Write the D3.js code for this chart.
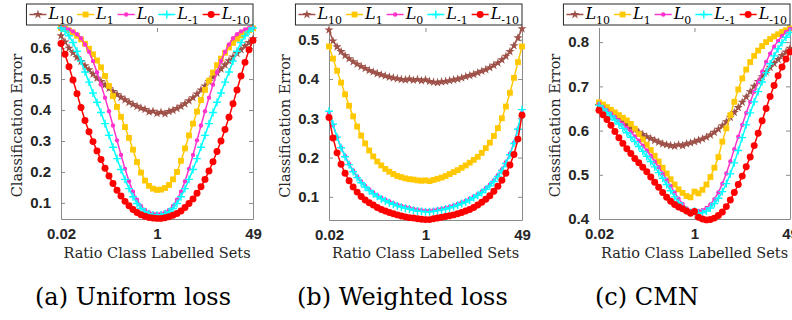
<!DOCTYPE html>
<html>
<head>
<meta charset='utf-8'>
<title>Classification error vs class ratio</title>
<script src='https://d3js.org/d3.v7.min.js'></script>
<style>
  body {margin:0; background:#fff;}
  .tk text {font-family:'Liberation Sans',Arial,sans-serif; font-weight:bold; font-size:15px; fill:#262626;}
  .axlbl {font-family:'DejaVu Serif',serif; font-size:14.5px; fill:#262626;}
  .cap {font-family:'DejaVu Serif',serif; font-size:24px; fill:#000;}
  .leg {font-family:'DejaVu Serif',serif; font-style:italic; font-size:16px; fill:#000;}
  .sub {font-style:normal; font-size:11px;}
</style>
</head>
<body>
<svg id='fig' width='792' height='320'></svg>
<script>
// sampled class ratios (log-spaced grid of the experiments)
const ratios=[0.02041,0.02400,0.02823,0.03320,0.03905,0.04592,0.05400,0.06351,0.07468,0.08784,
  0.1033,0.1215,0.1429,0.1680,0.1976,0.2324,0.2733,0.3214,0.3780,0.4446,0.5228,0.6149,0.7231,0.8503,
  1,1.176,1.383,1.626,1.913,2.249,2.645,3.111,3.659,4.304,5.061,5.952,7.000,8.232,9.681,11.385,
  13.39,15.75,18.52,21.78,25.61,30.12,35.42,41.66,49];
const xTicks=[1/49,1,49], xTickLabels=['0.02','1','49'];
const seriesNames=['10','1','0','-1','-10'];
const seriesColors=['#9e5148','#ffc800','#ff33cc','#00ffff','#ff0000'];
const captions=['(a) Uniform loss','(b) Weighted loss','(c) CMN'];
const xLabel='Ratio Class Labelled Sets', yLabel='Classification Error';

// (a) uniform loss
const uniTicks=[0.1,0.2,0.3,0.4,0.5,0.6];
const uniL10=[0.640,0.620,0.600,0.585,0.570,0.557,0.543,0.530,0.516,0.503,0.492,0.481,0.470,0.460,0.450,0.441,0.433,0.425,0.418,0.412,0.406,0.402,0.394,0.396,0.389,0.393,0.388,0.395,0.399,0.405,0.412,0.420,0.430,0.440,0.452,0.465,0.478,0.492,0.506,0.520,0.533,0.546,0.559,0.571,0.583,0.595,0.607,0.618,0.630];
const uniL1=[0.665,0.662,0.657,0.650,0.640,0.628,0.614,0.598,0.580,0.560,0.538,0.510,0.478,0.445,0.410,0.378,0.345,0.310,0.272,0.232,0.198,0.172,0.155,0.146,0.142,0.143,0.148,0.158,0.176,0.200,0.236,0.276,0.318,0.356,0.395,0.432,0.465,0.495,0.521,0.545,0.566,0.585,0.602,0.617,0.630,0.641,0.650,0.658,0.664];
const uniL0=[0.665,0.664,0.660,0.654,0.645,0.632,0.612,0.588,0.558,0.522,0.482,0.440,0.396,0.350,0.302,0.255,0.210,0.170,0.136,0.110,0.090,0.077,0.069,0.065,0.064,0.065,0.069,0.077,0.090,0.110,0.136,0.170,0.210,0.255,0.302,0.350,0.396,0.440,0.482,0.522,0.558,0.588,0.612,0.632,0.645,0.654,0.660,0.664,0.665];
const uniLm1=[0.665,0.655,0.640,0.618,0.590,0.558,0.523,0.490,0.455,0.425,0.392,0.356,0.318,0.280,0.243,0.208,0.176,0.146,0.120,0.098,0.082,0.071,0.065,0.061,0.060,0.061,0.065,0.071,0.082,0.098,0.120,0.146,0.176,0.208,0.243,0.280,0.318,0.356,0.392,0.425,0.455,0.490,0.523,0.558,0.590,0.618,0.640,0.655,0.665];
const uniLm10=[0.615,0.580,0.540,0.497,0.453,0.408,0.366,0.330,0.298,0.268,0.240,0.212,0.187,0.163,0.141,0.122,0.105,0.091,0.079,0.069,0.062,0.057,0.053,0.051,0.050,0.050,0.052,0.055,0.060,0.066,0.074,0.085,0.098,0.113,0.131,0.152,0.176,0.203,0.233,0.266,0.300,0.337,0.377,0.420,0.465,0.510,0.554,0.595,0.625];

// (b) weighted loss
const wgtTicks=[0.1,0.2,0.3,0.4,0.5];
const wgtL10=[0.525,0.497,0.482,0.470,0.460,0.452,0.444,0.438,0.432,0.427,0.422,0.418,0.414,0.411,0.408,0.405,0.403,0.401,0.399,0.398,0.400,0.397,0.399,0.396,0.398,0.394,0.392,0.391,0.393,0.394,0.396,0.398,0.400,0.403,0.406,0.409,0.412,0.416,0.420,0.424,0.429,0.435,0.441,0.449,0.458,0.470,0.485,0.505,0.528];
const wgtL1=[0.483,0.452,0.421,0.391,0.361,0.332,0.305,0.279,0.256,0.236,0.218,0.203,0.190,0.180,0.171,0.164,0.158,0.153,0.150,0.147,0.145,0.144,0.142,0.141,0.142,0.140,0.143,0.146,0.149,0.153,0.158,0.163,0.168,0.174,0.180,0.187,0.194,0.202,0.212,0.224,0.238,0.255,0.275,0.300,0.330,0.365,0.403,0.443,0.483];
const wgtL0=[0.312,0.283,0.252,0.226,0.204,0.184,0.167,0.152,0.139,0.128,0.119,0.111,0.104,0.098,0.093,0.088,0.084,0.080,0.077,0.074,0.072,0.069,0.067,0.066,0.065,0.065,0.066,0.068,0.070,0.072,0.075,0.078,0.082,0.086,0.090,0.095,0.101,0.107,0.114,0.122,0.131,0.142,0.155,0.170,0.188,0.210,0.238,0.272,0.315];
const wgtLm1=[0.318,0.285,0.252,0.225,0.202,0.182,0.164,0.149,0.136,0.125,0.116,0.108,0.101,0.095,0.090,0.085,0.081,0.077,0.074,0.071,0.069,0.066,0.064,0.063,0.062,0.062,0.063,0.065,0.067,0.069,0.072,0.075,0.079,0.083,0.087,0.092,0.098,0.104,0.111,0.119,0.128,0.139,0.152,0.167,0.185,0.207,0.236,0.272,0.322];
const wgtLm10=[0.302,0.250,0.212,0.183,0.160,0.141,0.125,0.112,0.101,0.092,0.085,0.079,0.073,0.068,0.064,0.060,0.057,0.054,0.051,0.049,0.047,0.046,0.044,0.043,0.042,0.042,0.044,0.046,0.048,0.050,0.052,0.054,0.057,0.060,0.064,0.068,0.073,0.079,0.086,0.094,0.103,0.114,0.127,0.142,0.160,0.181,0.208,0.247,0.308];

// (c) CMN
const cmnTicks=[0.4,0.5,0.6,0.7,0.8];
const cmnL10=[0.657,0.650,0.644,0.637,0.631,0.625,0.619,0.613,0.607,0.601,0.596,0.591,0.586,0.582,0.578,0.574,0.570,0.568,0.566,0.565,0.568,0.566,0.570,0.572,0.575,0.578,0.581,0.585,0.590,0.596,0.603,0.611,0.620,0.630,0.641,0.652,0.664,0.676,0.688,0.700,0.711,0.722,0.733,0.743,0.752,0.761,0.770,0.778,0.786];
const cmnL1=[0.664,0.659,0.653,0.647,0.641,0.635,0.629,0.623,0.615,0.604,0.592,0.580,0.568,0.556,0.543,0.530,0.516,0.503,0.490,0.478,0.467,0.459,0.452,0.449,0.462,0.458,0.466,0.478,0.495,0.516,0.540,0.575,0.605,0.635,0.665,0.693,0.718,0.738,0.755,0.769,0.781,0.791,0.800,0.807,0.813,0.818,0.823,0.827,0.831];
const cmnL0=[0.660,0.653,0.646,0.639,0.631,0.623,0.615,0.606,0.597,0.587,0.577,0.566,0.555,0.543,0.530,0.517,0.503,0.489,0.475,0.460,0.446,0.434,0.424,0.418,0.419,0.418,0.420,0.425,0.433,0.445,0.460,0.480,0.503,0.530,0.558,0.586,0.613,0.640,0.665,0.688,0.710,0.733,0.755,0.774,0.790,0.803,0.814,0.823,0.830];
const cmnLm1=[0.657,0.649,0.641,0.633,0.624,0.615,0.605,0.595,0.585,0.575,0.564,0.553,0.542,0.530,0.518,0.505,0.492,0.478,0.464,0.450,0.437,0.427,0.419,0.415,0.418,0.413,0.414,0.418,0.425,0.435,0.447,0.462,0.480,0.502,0.527,0.555,0.584,0.613,0.640,0.665,0.688,0.710,0.731,0.751,0.769,0.785,0.799,0.811,0.822];
const cmnLm10=[0.646,0.636,0.625,0.612,0.598,0.584,0.571,0.559,0.548,0.537,0.527,0.517,0.507,0.495,0.483,0.472,0.460,0.449,0.440,0.433,0.427,0.423,0.418,0.413,0.417,0.404,0.400,0.398,0.399,0.402,0.408,0.416,0.428,0.443,0.460,0.478,0.497,0.518,0.540,0.566,0.594,0.622,0.650,0.677,0.702,0.724,0.744,0.762,0.778];

const panels=[
  {x0:61,x1:253,y0:28,y1:219,yDom:[0.048,0.665],yTicks:uniTicks,
   data:[uniL10,uniL1,uniL0,uniLm1,uniLm10],cap:captions[0],capX:35},
  {x0:329,x1:522,y0:28,y1:220,yDom:[0.041,0.53],yTicks:wgtTicks,
   data:[wgtL10,wgtL1,wgtL0,wgtLm1,wgtLm10],cap:captions[1],capX:297},
  {x0:599,x1:790,y0:28,y1:219,yDom:[0.40,0.832],yTicks:cmnTicks,
   data:[cmnL10,cmnL1,cmnL0,cmnLm1,cmnLm10],cap:captions[2],capX:595}];

const hasPlus=!!d3.symbolPlus;
const markers=[
  {type:d3.symbolStar,size:26,fill:true},
  {type:d3.symbolSquare,size:34,fill:true},
  {type:d3.symbolCircle,size:15,fill:true},
  {type:hasPlus?d3.symbolPlus:d3.symbolCross,size:hasPlus?22:10,fill:!hasPlus},
  {type:d3.symbolCircle,size:38,fill:true}];
const axisGray='#8a8a8a';

const svg=d3.select('#fig');

function drawMarker(sel,s) {
  const m=markers[s];
  sel.attr('d',d3.symbol(m.type,m.size))
     .attr('fill',m.fill?seriesColors[s]:'none')
     .attr('stroke',m.fill?'none':seriesColors[s])
     .attr('stroke-width',1.4);
}

panels.forEach(p=>{
  const x=d3.scaleLog().domain([ratios[0],ratios[ratios.length-1]]).range([p.x0,p.x1]);
  const y=d3.scaleLinear().domain(p.yDom).range([p.y1,p.y0]);
  const g=svg.append('g');

  // axes, ticks pointing inwards
  const ax=[
    g.append('g').attr('transform',`translate(0,${p.y1})`)
     .call(d3.axisBottom(x).tickValues(xTicks).tickFormat((d,i)=>xTickLabels[i])
       .tickSize(-4).tickSizeOuter(0).tickPadding(9)),
    g.append('g').attr('transform',`translate(${p.x0},0)`)
     .call(d3.axisLeft(y).tickValues(p.yTicks).tickFormat(d3.format('.1f'))
       .tickSize(-4).tickSizeOuter(0).tickPadding(10)),
    g.append('g').attr('transform',`translate(${p.x1},0)`)
     .call(d3.axisRight(y).tickValues(p.yTicks).tickFormat('').tickSize(-4).tickSizeOuter(0)),
    g.append('g').attr('transform',`translate(0,${p.y0})`)
     .call(d3.axisTop(x).tickValues(xTicks).tickFormat('').tickSize(-4).tickSizeOuter(0))];
  ax.forEach(a=>{
    a.attr('class','tk').attr('font-family',null).attr('font-size',null);
    a.selectAll('line').attr('stroke',axisGray);
    a.select('.domain').attr('stroke',axisGray);
  });
  ax[3].select('.domain').remove();

  // series: line then markers, in legend order
  p.data.forEach((vals,s)=>{
    const pts=vals.map((v,i)=>[ratios[i],v]);
    g.append('path').datum(pts)
     .attr('d',d3.line().x(d=>x(d[0])).y(d=>y(d[1])))
     .attr('fill','none').attr('stroke',seriesColors[s]).attr('stroke-width',1.5);
    g.append('g').selectAll('path').data(pts).join('path')
     .attr('transform',d=>`translate(${x(d[0])},${y(d[1])})`)
     .call(drawMarker,s);
  });

  // axis titles
  g.append('text').attr('class','axlbl').attr('text-anchor','middle')
   .attr('x',(p.x0+p.x1)/2).attr('y',258).text(xLabel);
  g.append('text').attr('class','axlbl').attr('text-anchor','middle')
   .attr('transform',`translate(${p.x0-39},${(p.y0+p.y1)/2+2}) rotate(-90)`).text(yLabel);

  // legend above the plot, right-aligned
  const box=g.append('rect');
  const lg=g.append('g');
  let cx=0;
  seriesNames.forEach((nm,s)=>{
    const e=lg.append('g').attr('transform',`translate(${cx},0)`);
    e.append('line').attr('x1',0).attr('x2',17).attr('y1',14.5).attr('y2',14.5)
     .attr('stroke',seriesColors[s]).attr('stroke-width',1.5);
    e.append('path').attr('transform','translate(8.5,14.5)').call(drawMarker,s);
    const t=e.append('text').attr('class','leg').attr('x',19).attr('y',19);
    t.append('tspan').text('L');
    t.append('tspan').attr('class','sub').attr('dy',5).text(nm);
    cx+=19+t.node().getComputedTextLength()+4;
  });
  const bw=cx+2, bx=p.x1-bw;
  lg.attr('transform',`translate(${bx+3},0)`);
  box.attr('x',bx).attr('y',4).attr('width',bw).attr('height',21)
     .attr('fill','#fff').attr('stroke','#262626').attr('stroke-width',1);

  // sub-figure caption
  g.append('text').attr('class','cap').attr('x',p.capX).attr('y',305).text(p.cap);
});
</script>
</body>
</html>
